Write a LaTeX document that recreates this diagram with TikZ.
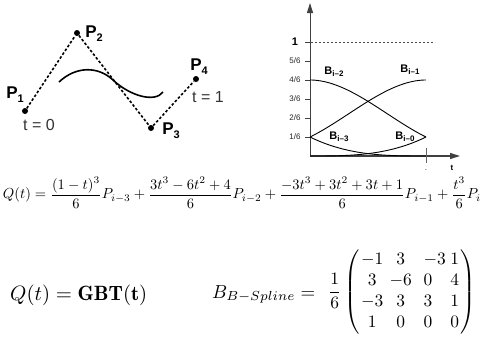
\documentclass[tikz,border=0pt]{standalone}
\usepackage{amsmath}
\usepackage{graphicx}
\usepackage{fontspec}
\newfontfamily\hv{Liberation Sans}
\usetikzlibrary{arrows.meta}
\newcommand\psub[2]{#1\raisebox{-0.45ex}{\fontsize{11}{11}\selectfont #2}}
\newcommand\bsub[1]{B\raisebox{-0.4ex}{\fontsize{8}{8}\selectfont #1}}
\begin{document}
\begin{tikzpicture}[x=1pt,y=-1pt,
  ptdot/.style={circle,fill=black,inner sep=0pt,minimum size=6pt},
  plabel/.style={font=\hv\bfseries\fontsize{17}{17}\selectfont,inner sep=0pt},
  tlabel/.style={font=\hv\fontsize{16}{16}\selectfont,text=black!80,inner sep=0pt},
  ctrl/.style={line width=1.6pt,dash pattern=on 2.6pt off 2pt},
  blabel/.style={font=\hv\bfseries\fontsize{11}{11}\selectfont,inner sep=0pt},
  ylab/.style={font=\hv\fontsize{8}{8}\selectfont,inner sep=0pt,text=black!85},
  axisline/.style={line width=1pt,black!75,-{Triangle[length=10pt,width=6pt]}},
  basis/.style={line width=0.9pt,black},
  eqn/.style={inner sep=0pt}]
\useasboundingbox (0,0) rectangle (482,346);

% ---------- control polygon and curve ----------
\node[ptdot] (p1) at (25,111) {};
\node[ptdot] (p2) at (77,33) {};
\node[ptdot] (p3) at (151,128) {};
\node[ptdot] (p4) at (196,79) {};
\draw[ctrl] (p1) -- (p2) -- (p3) -- (p4);
\node[plabel] (l1) at (15,95) {\psub{P}{1}};
\node[plabel] (l2) at (94,34) {\psub{P}{2}};
\node[plabel] (l3) at (171,131) {\psub{P}{3}};
\node[plabel] (l4) at (199,67) {\psub{P}{4}};
\node[tlabel] (t0) at (39,125) {t = 0};
\node[tlabel] (t1) at (208,97) {t = 1};
\draw[line width=1.6pt] (59,82) .. controls (76,66) and (98,66) .. (113,80)
  .. controls (130,96) and (155,103) .. (163,92);

% ---------- basis function chart ----------
\coordinate (o) at (310,156);
\coordinate (ytop) at (310,3);
\coordinate (xend) at (460,156);
\draw[axisline] (o) -- (ytop);
\draw[axisline,line width=1.3pt] (o) -- (xend);
\draw[black!70,line width=0.5pt,dash pattern=on 2pt off 2pt] (307,42) -- (435,42);
\foreach \k/\lab in {1/1{/}6,2/2{/}6,3/3{/}6,4/4{/}6,5/5{/}6}{
  \draw[black!75,line width=0.6pt] (305,{156-19*\k}) -- (310,{156-19*\k});
  \node[ylab] at (295,{156-19*\k}) {\lab};
}
\draw[black!75,line width=0.6pt] (305,42) -- (310,42);
\node[font=\hv\bfseries\fontsize{11}{11}\selectfont,inner sep=0pt] (one) at (295,42) {1};
\draw[black!60,line width=0.6pt] (426,148) -- (426,163);
\node[ylab] (dot) at (426,170) {.};
\node[font=\hv\bfseries\fontsize{8}{8}\selectfont,inner sep=0pt] (tax) at (452,168) {t};

\draw[basis,domain=0:1,samples=60] plot ({310+116*\x},{156-114*(1-\x)^3/6});
\draw[basis,domain=0:1,samples=60] plot ({310+116*\x},{156-114*(3*\x^3-6*\x^2+4)/6});
\draw[basis,domain=0:1,samples=60] plot ({310+116*\x},{156-114*(-3*\x^3+3*\x^2+3*\x+1)/6});
\draw[basis,domain=0:1,samples=60] plot ({310+116*\x},{156-114*\x^3/6});
\node[blabel] (b2) at (334,72) {\bsub{i–2}};
\node[blabel] (b1) at (410,70) {\bsub{i–1}};
\node[blabel] (b3) at (339,137) {\bsub{i–3}};
\node[blabel] (b0) at (405,137) {\bsub{i–0}};

% ---------- equations ----------
\node[eqn] (eq1) at (242,193) {\resizebox{478pt}{!}{$\displaystyle Q(t)=\frac{(1-t)^3}{6}P_{i-3}+\frac{3t^3-6t^2+4}{6}P_{i-2}+\frac{-3t^3+3t^2+3t+1}{6}P_{i-1}+\frac{t^3}{6}P_i$}};
\node[eqn,anchor=base west] (eq2) at (10,300) {\resizebox{137pt}{!}{$Q(t)=\mathbf{GBT(t)}$}};
\node[eqn,anchor=base west] (eq3a) at (212,298) {\scalebox{1.88}{$B_{B-Spline}=$}};
\node[eqn,anchor=west] (eq3b) at (328,292) {\resizebox{148pt}{!}{$\dfrac{1}{6}\left(\begin{array}{@{\hspace{1pt}}c@{\hspace{3.6pt}}c@{\hspace{6.7pt}}l@{\hspace{2.6pt}}c@{\hspace{1pt}}}-1&3&-3&1\\3&-6&0&4\\-3&3&3&1\\1&0&0&0\end{array}\right)$}};
\end{tikzpicture}
\end{document}
